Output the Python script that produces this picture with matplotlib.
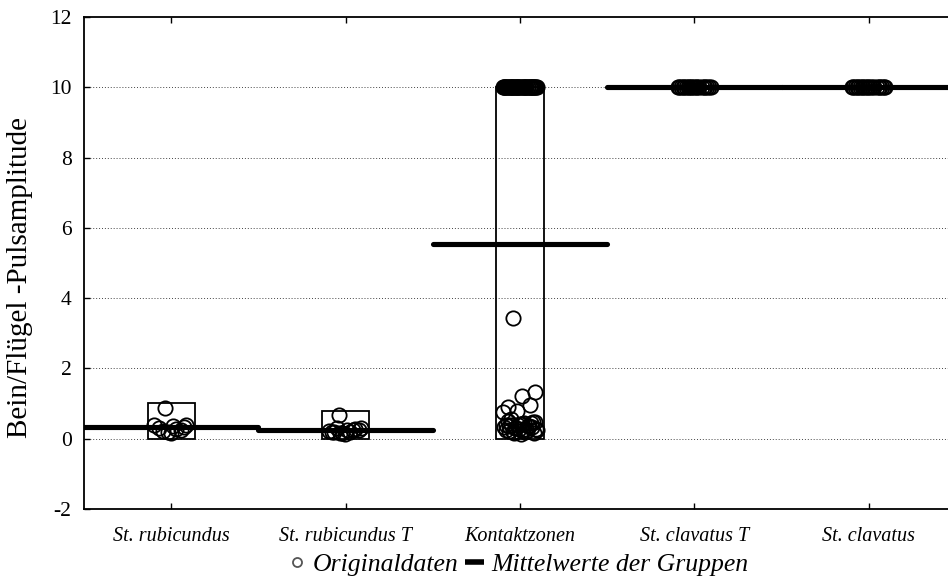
import numpy as np
import matplotlib
matplotlib.use("Agg")
import matplotlib.pyplot as plt
from matplotlib.lines import Line2D
from matplotlib.patches import Rectangle

# Groups and raw measurements (Bein/Flügel pulse amplitude ratio)
groups = ["St. rubicundus", "St. rubicundus T", "Kontaktzonen",
          "St. clavatus T", "St. clavatus"]

rubicundus = [0.87, 0.40, 0.35, 0.30, 0.25, 0.20, 0.38, 0.28, 0.22, 0.33, 0.15]
rubicundus_t = [0.67, 0.30, 0.25, 0.20, 0.28, 0.15, 0.22, 0.18, 0.30, 0.25,
                0.12, 0.20, 0.24, 0.16]
kontakt = ([3.43, 1.33, 1.21, 0.89, 0.95, 0.78, 0.75, 0.18,
            0.55, 0.48, 0.42, 0.38, 0.35, 0.30, 0.28, 0.25, 0.22, 0.45,
            0.40, 0.33, 0.27, 0.20, 0.15, 0.12, 0.50, 0.36, 0.31, 0.26,
            0.44, 0.39, 0.34, 0.29, 0.24, 0.21, 0.17, 0.47, 0.41, 0.37]
           + [10.0] * 40)
clavatus_t = [10.0] * 20
clavatus = [10.0] * 20
group_values = [rubicundus, rubicundus_t, kontakt, clavatus_t, clavatus]

# Group means and range boxes
group_means = [0.34, 0.26, 5.55, 10.0, 10.0]
box_bottoms = [0.0, 0.0, 0.0, 10.0, 10.0]
box_tops = [1.03, 0.80, 10.0, 10.0, 10.0]

yticks = [-2, 0, 2, 4, 6, 8, 10, 12]

plt.rcParams["font.family"] = ["Liberation Serif", "DejaVu Serif"]

fig = plt.figure(figsize=(9.48, 5.80), dpi=100)
ax = fig.add_axes([84 / 948, 1 - 509 / 580, (956 - 84) / 948, (509 - 17) / 580])

ax.set_xlim(-0.5, len(groups) - 0.5)
ax.set_ylim(-2, 12)

# dotted horizontal grid
for y in yticks[1:-1]:
    ax.axhline(y, color="#444444", lw=0.7, ls=(0, (1, 2)), zorder=0)

half_w = 0.135
for i, (vals, lo, hi, mean) in enumerate(
        zip(group_values, box_bottoms, box_tops, group_means)):
    # range box (degenerate ranges draw nothing)
    if hi > lo:
        ax.add_patch(Rectangle((i - half_w, lo), 2 * half_w, hi - lo, fill=False,
                               edgecolor="black", lw=1.3, zorder=2))
    # group mean
    ax.plot([i - 0.5, i + 0.5], [mean, mean], color="black", lw=3.7,
            solid_capstyle="round", zorder=3)
    # original data, spread horizontally inside the box
    n = len(vals)
    offs = (((np.arange(n) * 0.6180339887 + 0.31) % 1.0) - 0.5) * 0.2
    ax.plot(i + offs, vals, ls="none", marker="o", ms=10.3, mfc="none",
            mec="black", mew=1.3, zorder=4)

ax.set_xticks(range(len(groups)))
ax.set_xticklabels(groups, fontstyle="italic", fontsize=14.5)
ax.set_yticks(yticks)
ax.set_yticklabels([str(t) for t in yticks], fontsize=15.5)
ax.tick_params(axis="x", direction="in", length=4, width=1, top=True, pad=13)
ax.tick_params(axis="y", direction="in", length=4, width=1, pad=9)
for s in ax.spines.values():
    s.set_linewidth(1.3)

ax.set_ylabel("Bein/Flügel -Pulsamplitude", fontsize=21)
ax.yaxis.set_label_coords(-0.058, 0.47)

handles = [
    Line2D([], [], ls="none", marker="o", ms=6.5, mfc="white", mec="#555555", mew=1.3),
    Line2D([], [], color="black", lw=4, solid_capstyle="butt"),
]
fig.legend(handles, ["Originaldaten", "Mittelwerte der Gruppen"],
           loc="center", bbox_to_anchor=(0.546, 0.026), ncol=2, frameon=False,
           prop={"style": "italic", "size": 18.5}, handlelength=0.75,
           handletextpad=0.25, columnspacing=0.25, borderpad=0)

fig.savefig("out.png", dpi=100)
